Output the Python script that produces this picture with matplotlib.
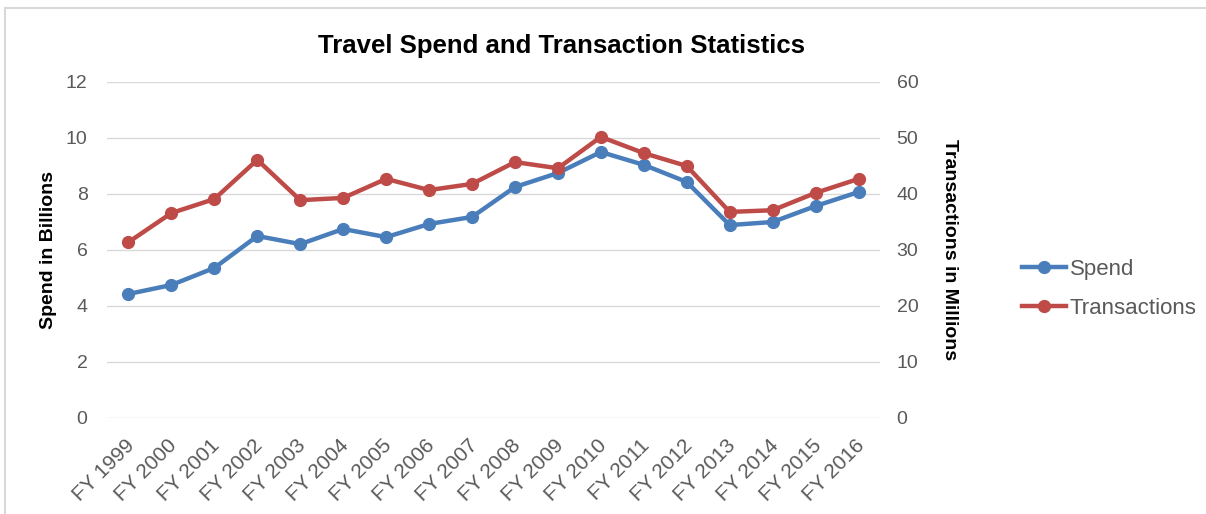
import matplotlib
matplotlib.use("Agg")
import matplotlib.pyplot as plt
import matplotlib.transforms as mtransforms
from matplotlib.patches import Rectangle

years = ["FY 1999", "FY 2000", "FY 2001", "FY 2002", "FY 2003", "FY 2004", "FY 2005",
         "FY 2006", "FY 2007", "FY 2008", "FY 2009", "FY 2010", "FY 2011", "FY 2012",
         "FY 2013", "FY 2014", "FY 2015", "FY 2016"]
spend = [4.43, 4.75, 5.36, 6.5, 6.21, 6.75, 6.46, 6.93, 7.18, 8.25, 8.75, 9.5, 9.04,
         8.43, 6.89, 7.0, 7.57, 8.07]
transactions = [31.4, 36.6, 39.1, 46.1, 38.9, 39.3, 42.7, 40.7, 41.8, 45.7, 44.6, 50.2,
                47.3, 45.0, 36.8, 37.1, 40.2, 42.7]
left_ticks = [0, 2, 4, 6, 8, 10, 12]
right_ticks = [0, 10, 20, 30, 40, 50, 60]

plt.rcParams['font.family'] = ['Liberation Sans', 'DejaVu Sans']
W, H = 1206, 514
fig = plt.figure(figsize=(W / 100, H / 100), dpi=100)

# chart border (cropped on right and bottom)
fig.patches.append(Rectangle((5 / W, -0.1), 1.2, (H - 8) / H + 0.1, transform=fig.transFigure,
                             fill=False, edgecolor='#D9D9D9', linewidth=1.5))

ax = fig.add_axes([107 / W, (H - 418) / H, (880 - 107) / W, (418 - 82) / H])
ax2 = ax.twinx()

blue = '#4A7EBB'
red = '#BE4B48'
gray = '#595959'
x = list(range(len(years)))

ax.plot(x, spend, color=blue, lw=3.2, marker='o', ms=8.5, label='Spend', zorder=3)
ax2.plot(x, transactions, color=red, lw=3.2, marker='o', ms=8.5, label='Transactions', zorder=3)

ax.set_xlim(-0.5, len(years) - 0.5)
ax.set_ylim(0, 12)
ax2.set_ylim(0, 60)
ax.set_yticks(left_ticks)
ax2.set_yticks(right_ticks)
ax.grid(axis='y', color='#D9D9D9', lw=1)
ax.set_axisbelow(True)
for a in (ax, ax2):
    for s in a.spines.values():
        s.set_visible(False)
    a.tick_params(length=0, labelsize=14, labelcolor=gray)
ax.tick_params(axis='y', pad=14)
ax2.tick_params(axis='y', pad=12)
ax.set_xticks(x)
ax.set_xticklabels(years, rotation=45, ha='right', rotation_mode='anchor', fontsize=15)
ax.tick_params(axis='x', pad=13)
shift = mtransforms.ScaledTranslation(-4 / 100, 0, fig.dpi_scale_trans)
for lbl in ax.get_xticklabels():
    lbl.set_transform(lbl.get_transform() + shift)

ax.set_ylabel('Spend in Billions', fontsize=14, fontweight='bold', labelpad=6)
ax2.set_ylabel('Transactions in Millions', fontsize=14, fontweight='bold', rotation=-90,
               labelpad=16, va='bottom')

fig.text(562 / W, 1 - 46 / H, 'Travel Spend and Transaction Statistics', ha='center',
         va='center', fontsize=18.5, fontweight='bold', color='black')

h1, l1 = ax.get_legend_handles_labels()
h2, l2 = ax2.get_legend_handles_labels()
fig.legend(h1 + h2, l1 + l2, loc='center left', bbox_to_anchor=(1002 / W, 1 - 289 / H),
           frameon=False, fontsize=16, labelcolor=gray, handlelength=2.0, handletextpad=0.15,
           labelspacing=0.8)

fig.savefig('out.png', dpi=100, facecolor='white')
